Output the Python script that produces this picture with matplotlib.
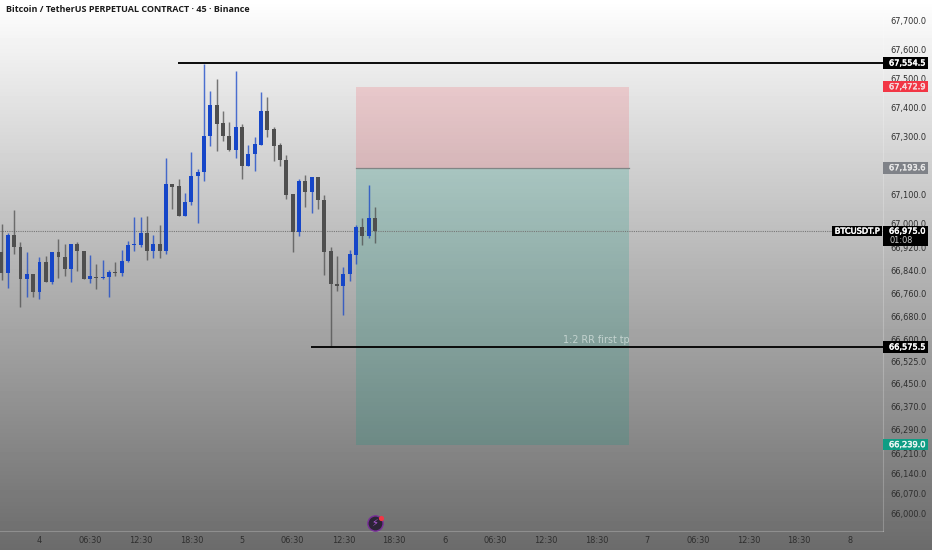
import numpy as np
import matplotlib
matplotlib.use('Agg')
import matplotlib.pyplot as plt
import matplotlib.patheffects as pe
from matplotlib.patches import Rectangle

opens = [66902, 66830, 66962, 66921, 66811, 66828, 66766, 66870, 66800, 66902,
         66887, 66846, 66931, 66905, 66811, 66818, 66812, 66816, 66834, 66832,
         66871, 66926, 66928, 66970, 66908, 66931, 66906, 67136, 67130, 67028,
         67076, 67166, 67179, 67303, 67411, 67346, 67304, 67256, 67333, 67201,
         67241, 67272, 67390, 67326, 67271, 67220, 67103, 66971, 67147, 67110,
         67160, 67082, 66906, 66793, 66786, 66827, 66894, 66988, 66958, 67020]
highs = [66999, 66967, 67048, 66939, 66903, 66828, 66885, 66889, 66902, 66947,
         66929, 66931, 66936, 66905, 66893, 66862, 66875, 66841, 66868, 66910,
         66942, 67025, 67022, 67027, 66962, 66996, 67226, 67136, 67156, 67105,
         67247, 67188, 67551, 67459, 67500, 67388, 67351, 67526, 67344, 67272,
         67298, 67455, 67438, 67333, 67280, 67236, 67103, 67153, 67168, 67163,
         67163, 67101, 66919, 66889, 66850, 66910, 66997, 67021, 67135, 67057]
lows = [66806, 66778, 66896, 66715, 66749, 66747, 66742, 66800, 66793, 66815,
        66820, 66801, 66839, 66811, 66795, 66774, 66809, 66747, 66820, 66821,
        66868, 66905, 66921, 66875, 66882, 66882, 66897, 67052, 67028, 67028,
        67064, 67004, 67149, 67268, 67252, 67287, 67252, 67228, 67153, 67198,
        67183, 67271, 67298, 67218, 67199, 67085, 66902, 66958, 67059, 67036,
        67052, 66824, 66577, 66770, 66686, 66802, 66862, 66928, 66951, 66935]
closes = [66830, 66962, 66921, 66811, 66828, 66766, 66870, 66800, 66902, 66887,
          66846, 66931, 66905, 66811, 66819, 66813, 66817, 66835, 66832, 66871,
          66926, 66931, 66970, 66908, 66931, 66908, 67136, 67128, 67028, 67076,
          67166, 67180, 67303, 67411, 67345, 67303, 67256, 67333, 67199, 67242,
          67274, 67390, 67325, 67270, 67220, 67101, 66971, 67147, 67110, 67160,
          67082, 66904, 66793, 66786, 66827, 66895, 66988, 66958, 67020, 66975]

price_ticks = [67700, 67600, 67500, 67400, 67300, 67100, 67000, 66920, 66840, 66760,
               66680, 66600, 66525, 66450, 66370, 66290, 66210, 66140, 66070, 66000]
time_ticks = [6, 14, 22, 30, 38, 46, 54, 62, 70, 78, 86, 94, 102, 110, 118, 126, 134]
time_labels = ['4', '06:30', '12:30', '18:30', '5', '06:30', '12:30', '18:30', '6',
               '06:30', '12:30', '18:30', '7', '06:30', '12:30', '18:30', '8']

last_price = 66975.0
high_line = 67554.5
low_line = 66575.5
stop_price = 67472.9
entry_price = 67193.6
target_price = 66239.0

BLUE = '#1646c8'
GREY = '#4f4f4f'
TEXT = '#2e2e2e'

fig = plt.figure(figsize=(9.32, 5.5), dpi=100)

# background gradient covers the whole picture, scales included
bg = fig.add_axes([0, 0, 1, 1], zorder=0)
grad = np.interp(np.linspace(0, 1, 550), [0, 0.03, 0.5, 1], [1.0, 0.98, 0.70, 0.42])
bg.imshow(grad[:, None], aspect='auto', cmap='gray', vmin=0, vmax=1)
bg.axis('off')

ax = fig.add_axes([0, 19 / 550, 883 / 932, 531 / 550], zorder=1)
ax.patch.set_alpha(0)
ax.set_axisbelow('line')
ax.set_xlim(-0.237, 139.26)
ax.set_ylim(65941.3, 67771.7)

# position tool
ax.axhspan(entry_price, stop_price, xmin=0.4032, xmax=0.7123, color='#f23645', alpha=0.17, lw=0, zorder=1)
ax.axhspan(target_price, entry_price, xmin=0.4032, xmax=0.7123, color='#089981', alpha=0.2, lw=0, zorder=1)
ax.axhline(entry_price, xmin=0.4032, xmax=0.7123, color='#808585', lw=0.9, zorder=1.2)

ax.axhline(last_price, color='#777777', lw=0.8, ls=(0, (1, 1)), zorder=1.3)

# candles
for i in range(len(opens)):
    col = BLUE if closes[i] >= opens[i] else GREY
    ax.vlines(i, lows[i], highs[i], color=col, lw=1.05, alpha=0.75, zorder=2)
    ax.bar(i, abs(closes[i] - opens[i]), bottom=min(opens[i], closes[i]), width=0.62,
           color=col, lw=0, zorder=2.1)

ax.plot([27.9, 139.26], [high_line, high_line], color='#0a0a0a', lw=1.4, zorder=3, solid_capstyle='butt')
ax.plot([48.9, 139.26], [low_line, low_line], color='#0a0a0a', lw=1.4, zorder=3, solid_capstyle='butt')

ax.text(99.2, 66600, '1:2 RR first tp', color='#c3d3cf', fontsize=6.9, ha='right', va='center', zorder=3)

# lightning badge near the time scale
ax.scatter([59], [65969], s=120, color='#2c2436', edgecolors='#7a2f9a', linewidths=1.0, zorder=4, clip_on=False)
ax.text(59, 65969, '\u26a1', color='#b45ee0', fontsize=7, ha='center', va='center', zorder=5)
ax.scatter([60], [65986], s=14, color='#f23645', lw=0, zorder=6, clip_on=False)

ax.yaxis.tick_right()
ax.set_yticks(price_ticks)
ax.set_yticklabels([f'{p:,.1f}' for p in price_ticks])
ax.set_xticks(time_ticks)
ax.set_xticklabels(time_labels)
ax.tick_params(axis='y', length=0, pad=5.2, labelsize=5.9, labelcolor=TEXT)
ax.tick_params(axis='x', length=0, pad=3.5, labelsize=5.9, labelcolor=TEXT)
for side in ['top', 'left']:
    ax.spines[side].set_visible(False)
for side in ['right', 'bottom']:
    ax.spines[side].set_color('#ffffff')
    ax.spines[side].set_alpha(0.22)
    ax.spines[side].set_linewidth(0.8)


def heavy(color):
    return [pe.withStroke(linewidth=0.35, foreground=color)]


# price labels on the right scale
trans = ax.get_yaxis_transform()
flags = [(high_line, '#000000', '#ffffff'), (stop_price, '#f23645', '#f5d9dc'),
         (entry_price, '#7f8288', '#e6e6e6'), (low_line, '#000000', '#ffffff'),
         (target_price, '#0f9d84', '#e8f5f2')]
for price, face, txt in flags:
    ax.add_patch(Rectangle((1.0, price - 20), 0.051, 40, transform=trans, fc=face, ec='none',
                           clip_on=False, zorder=7))
    ax.text(1.0068, price, f'{price:,.1f}', transform=trans, color=txt, fontsize=5.9,
            va='center', ha='left', clip_on=False, zorder=8, path_effects=heavy(txt))

ax.add_patch(Rectangle((1.0, last_price - 52), 0.051, 69, transform=trans, fc='#000000', ec='none',
                       clip_on=False, zorder=7))
ax.text(1.0068, last_price, f'{last_price:,.1f}', transform=trans, color='#ffffff', fontsize=5.9,
        va='center', ha='left', clip_on=False, zorder=8, path_effects=heavy('#ffffff'))
ax.text(1.0068, last_price - 32, '01:08', transform=trans, color='#d0d0d0', fontsize=5.9,
        va='center', ha='left', clip_on=False, zorder=8)
ax.add_patch(Rectangle((0.9422, last_price - 18), 0.0563, 36, transform=trans, fc='#000000', ec='none',
                       clip_on=False, zorder=7))
ax.text(0.9955, last_price, 'BTCUSDT.P', transform=trans, color='#ffffff', fontsize=5.9,
        va='center', ha='right', zorder=8, path_effects=heavy('#ffffff'))

fig.text(6 / 932, 1 - 10 / 550, 'Bitcoin / TetherUS PERPETUAL CONTRACT \u00b7 45 \u00b7 Binance',
         color='#1c1c1c', fontsize=6.5, fontweight='bold', family='Open Sans', va='center', zorder=9)

fig.savefig('out.png', dpi=100)
